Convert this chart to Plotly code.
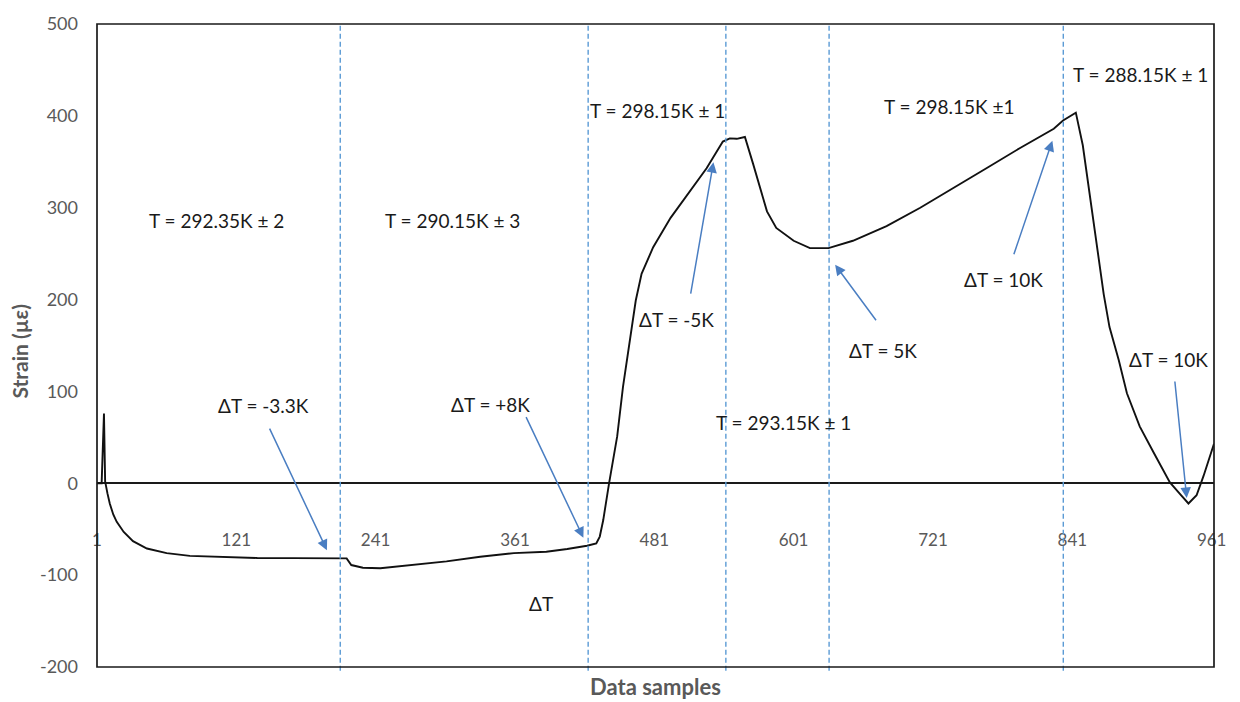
import plotly.graph_objects as go

# Strain record against sample index
samples = [1, 5, 7, 8, 10, 12, 15, 18, 24, 32, 44, 61, 81, 110, 139, 170, 210, 216,
           220, 230, 245, 274, 302, 331, 360, 388, 406, 423, 431, 434, 437, 442,
           449, 454, 460, 465, 470, 480, 495, 509, 526, 540, 546, 552, 559, 566,
           572, 578, 586, 601, 615, 631, 652, 681, 710, 738, 767, 796, 825, 833,
           844, 850, 856, 862, 868, 873, 881, 888, 899, 911, 925, 934, 941, 948,
           954, 963]
strain = [0, 0, 76, 2, -11, -22, -34, -42, -53, -63, -71, -76, -79, -80.5, -81.3,
          -81.5, -81.7, -81.8, -89, -92, -92.5, -89, -85, -80, -76, -74.5, -71.6,
          -68, -65.5, -58, -40, 0, 51, 105, 159, 199, 228, 257, 289, 314, 343, 372,
          375.5, 375, 377, 348, 321, 296, 278, 264, 256, 256, 264, 280, 300, 321.5,
          343, 365, 386, 395, 403.5, 368, 314, 260, 206, 170, 134, 98, 62, 33.5, 1,
          -12, -22, -13, 8, 43]

x_ticks = [1, 121, 241, 361, 481, 601, 721, 841, 961]
y_ticks = [-200, -100, 0, 100, 200, 300, 400, 500]

# Boundaries between temperature stages
stage_bounds = [210.5, 424, 542.6, 631.5, 833.2]

# Stage temperature labels: (sample, strain, text)
temp_labels = [
    (103.8, 286.5, "T = 292.35K ± 2"),
    (306.9, 286.5, "T = 290.15K ± 3"),
    (483.8, 405.3, "T = 298.15K ± 1"),
    (734.4, 410.7, "T = 298.15K ±1"),
    (900.1, 445.0, "T = 288.15K ± 1"),
    (591.9, 66.1, "T = 293.15K ± 1"),
    (383.5, -130.5, "ΔT"),
]

# Temperature step labels
step_labels = [
    (144.2, 84.2, "ΔT = -3.3K"),
    (339.6, 85.6, "ΔT = +8K"),
    (499.8, 177.8, "ΔT = -5K"),
    (678.0, 144.3, "ΔT = 5K"),
    (781.3, 221.7, "ΔT = 10K"),
    (923.4, 135.2, "ΔT = 10K"),
]

# Arrow tips (sample, strain) and tail offsets in pixels
arrow_tips = [(199, -72.8), (419.9, -59.2), (531.9, 349.6),
              (636.7, 237.9), (823.8, 372.9), (939.5, -16)]
arrow_tails = [(-58, -123), (-58, -122), (-23, 133), (42, 57), (-39, 115), (-12, -118)]

FONT = "Lato"
GREY = "#595959"
BLUE = "#4A7EC2"

fig = go.Figure()
fig.add_trace(go.Scatter(x=samples, y=strain, mode="lines",
                         line=dict(color="#111111", width=1.9),
                         hoverinfo="skip", showlegend=False))

shapes = []
for b in stage_bounds:
    shapes.append(dict(type="line", xref="x", yref="paper", x0=b, x1=b, y0=-0.006, y1=1,
                       line=dict(color="#5B9BD5", width=1.4, dash="5px,3px")))
# plot-area frame
shapes.append(dict(type="rect", xref="paper", yref="paper", x0=0, x1=1, y0=0, y1=1,
                   line=dict(color="#1a1a1a", width=1.7)))

annotations = []
for sx, sy, t in temp_labels + step_labels:
    annotations.append(dict(x=sx, y=sy, xref="x", yref="y", text=t, showarrow=False,
                            xanchor="center", yanchor="middle",
                            font=dict(family=FONT, size=19, color="#1a1a1a")))
for (tx, ty), (ax, ay) in zip(arrow_tips, arrow_tails):
    annotations.append(dict(x=tx, y=ty, xref="x", yref="y", text="", showarrow=True,
                            ax=ax, ay=ay, arrowhead=2, arrowsize=1.4, arrowwidth=1.5,
                            arrowcolor=BLUE, standoff=0))
annotations.append(dict(x=0.5, y=-0.031, xref="paper", yref="paper", text="<b>Data samples</b>",
                        showarrow=False, xanchor="center", yanchor="middle",
                        font=dict(family=FONT, size=22, color=GREY)))
annotations.append(dict(x=-0.069, y=0.492, xref="paper", yref="paper", text="<b>Strain (µε)</b>",
                        showarrow=False, textangle=-90, xanchor="center", yanchor="middle",
                        font=dict(family=FONT, size=21, color=GREY)))

fig.update_layout(
    width=1240, height=702,
    margin=dict(l=97, r=26, t=19, b=35),
    paper_bgcolor="white", plot_bgcolor="white",
    shapes=shapes, annotations=annotations,
    xaxis=dict(range=[1, 963], tickvals=x_ticks, ticktext=[str(v) for v in x_ticks],
               showgrid=False, zeroline=False, showline=False, ticks="",
               anchor="free", position=0.216,
               tickfont=dict(family=FONT, size=17, color=GREY)),
    yaxis=dict(range=[-200, 500], tickvals=y_ticks, ticktext=[str(v) for v in y_ticks],
               showgrid=False,
               zeroline=True, zerolinecolor="#1a1a1a", zerolinewidth=1.6,
               showline=False, ticks="", ticklabelstandoff=18,
               tickfont=dict(family=FONT, size=18, color=GREY)),
)

fig.write_html("out.html")
